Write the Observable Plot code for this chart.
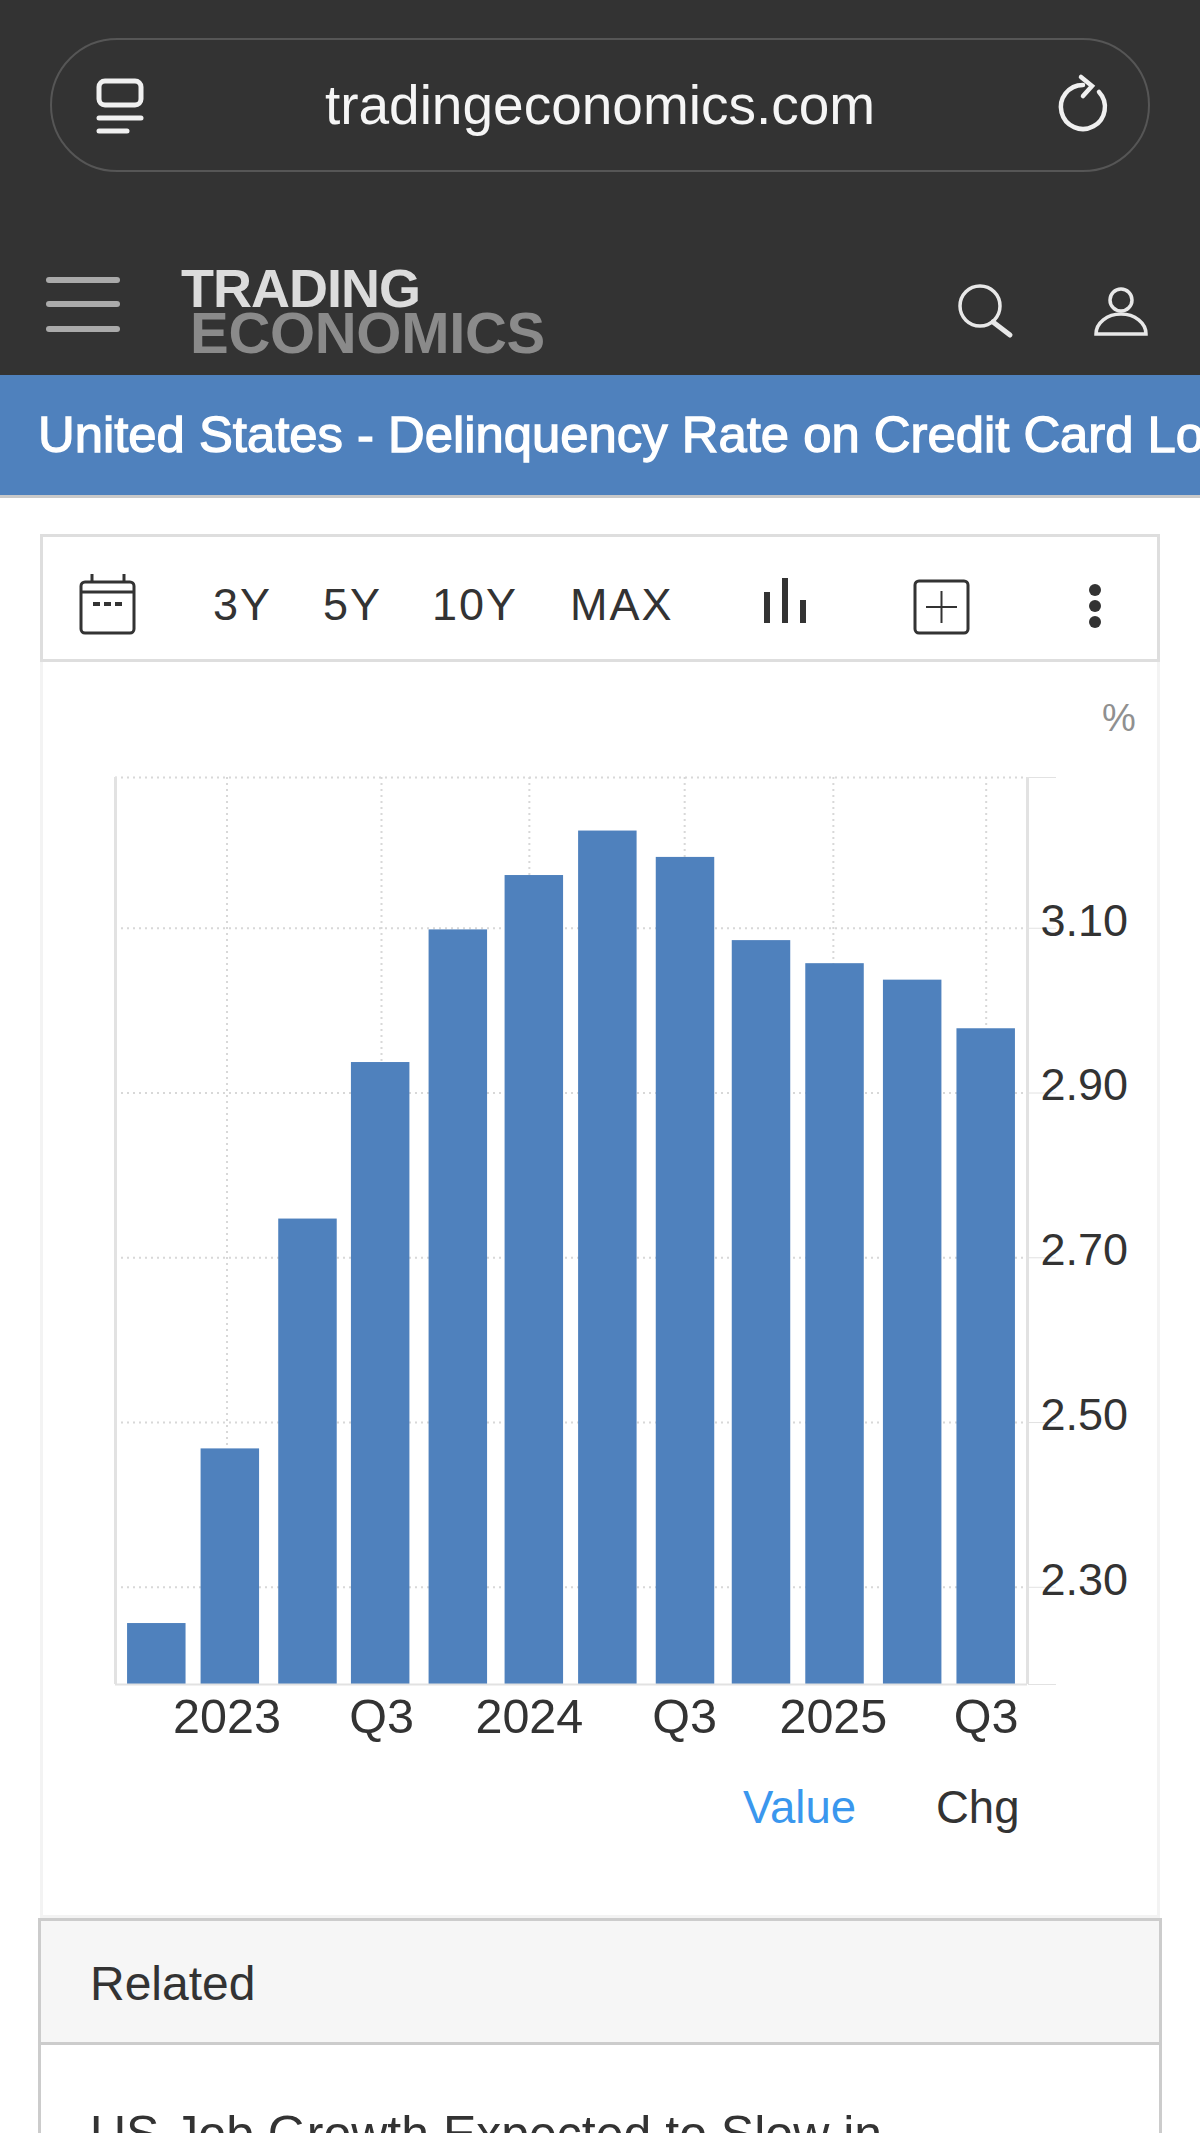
<!DOCTYPE html>
<html><head><meta charset="utf-8">
<script src="https://cdn.jsdelivr.net/npm/d3@7"></script>
<script src="https://cdn.jsdelivr.net/npm/@observablehq/plot@0.6"></script>
<style>
html,body{margin:0;padding:0;background:#fff;width:1200px;height:2133px;overflow:hidden;font-family:"Liberation Sans",Arial,sans-serif;}
.a{position:absolute;white-space:nowrap;line-height:1;}
svg.i{position:absolute;left:0;top:0;}
#chart{position:absolute;left:0;top:690px;width:1200px;}
</style></head><body>
<div class="a" style="left:0;top:0;width:1200px;height:375px;background:#333"></div>
<div class="a" style="left:50px;top:38px;width:1100px;height:134px;box-sizing:border-box;border:2px solid #565656;border-radius:67px"></div>
<div class="a" style="left:0;width:1200px;text-align:center;top:78px;font-size:55px;color:#f5f5f5">tradingeconomics.com</div>
<div class="a" style="left:181px;top:268px;font-size:54px;line-height:.75;font-weight:bold;color:#dcdcdc;letter-spacing:-1px">TRADING</div>
<div class="a" style="left:190px;top:311px;font-size:58px;line-height:.75;font-weight:bold;color:#8a8a8a;letter-spacing:-.3px">ECONOMICS</div>
<div class="a" style="left:0;top:375px;width:1200px;height:120px;background:#4f81bd;border-bottom:3px solid #c9c9c9;overflow:hidden">
  <div class="a" style="left:38px;top:35px;font-size:50.8px;color:#fff;-webkit-text-stroke:1.3px #fff">United States - Delinquency Rate on Credit Card Loans</div>
</div>
<div class="a" style="left:40px;top:661px;width:1120px;height:1257px;box-sizing:border-box;border:3px solid #f3f3f3;border-top:0"></div>
<div class="a" style="left:40px;top:534px;width:1120px;height:128px;box-sizing:border-box;border:3px solid #dedede;background:#fff"></div>
<div class="a" style="left:213px;top:582px;font-size:45px;color:#333;letter-spacing:2px">3Y</div>
<div class="a" style="left:323px;top:582px;font-size:45px;color:#333;letter-spacing:2px">5Y</div>
<div class="a" style="left:432px;top:582px;font-size:45px;color:#333;letter-spacing:2px">10Y</div>
<div class="a" style="left:570px;top:582px;font-size:45px;color:#333;letter-spacing:2px">MAX</div>
<svg class="i" width="1200" height="700" fill="none">
  <g stroke="#f0f0f0" stroke-width="5" stroke-linecap="round">
    <rect x="99" y="81" width="42" height="24" rx="6"/>
    <line x1="99" y1="118" x2="141" y2="118"/><line x1="99" y1="131" x2="127" y2="131"/>
    <path d="M1099 92 A22 22 0 1 1 1083 85 M1081 77 L1092 86 L1083 96" stroke-width="4.5"/>
  </g>
  <g stroke="#e8e8e8" stroke-width="4" stroke-linecap="round">
    <circle cx="980" cy="306" r="20" stroke-width="3.5"/><line x1="993" y1="322" x2="1010" y2="335" stroke-width="5"/>
    <circle cx="1121" cy="300" r="11" stroke-width="3.5"/><path d="M1096 334 a25 20 0 0 1 50 0 z" stroke-width="3.5"/>
  </g>
  <g stroke="#aaa" stroke-width="6" stroke-linecap="round">
    <line x1="49" y1="280" x2="117" y2="280"/><line x1="49" y1="304" x2="117" y2="304"/><line x1="49" y1="329" x2="117" y2="329"/>
  </g>
  <g stroke="#333" stroke-width="3">
    <rect x="81" y="582" width="53" height="51" rx="4"/><line x1="81" y1="592" x2="134" y2="592"/>
    <line x1="92" y1="574" x2="92" y2="582"/><line x1="124" y1="574" x2="124" y2="582"/>
    <line x1="93" y1="604" x2="100" y2="604" stroke-width="4"/><line x1="104" y1="604" x2="111" y2="604" stroke-width="4"/><line x1="115" y1="604" x2="122" y2="604" stroke-width="4"/>
    <line x1="767" y1="623" x2="767" y2="592" stroke-width="6"/><line x1="785" y1="623" x2="785" y2="578" stroke-width="6"/><line x1="803" y1="623" x2="803" y2="600" stroke-width="6"/>
    <rect x="915" y="581" width="53" height="52" rx="4"/><line x1="926" y1="607" x2="957" y2="607" stroke-width="2"/><line x1="941.5" y1="591" x2="941.5" y2="623" stroke-width="2"/>
  </g>
  <g fill="#333"><circle cx="1095" cy="590" r="6"/><circle cx="1095" cy="606" r="6"/><circle cx="1095" cy="622" r="6"/></g>
</svg>
<div id="chart"></div>
<div class="a" style="left:1102px;top:699px;font-size:38px;color:#909090">%</div>
<div class="a" style="left:743px;top:1785px;font-size:45.5px;color:#3a97ee">Value</div>
<div class="a" style="left:936px;top:1785px;font-size:45.5px;color:#333">Chg</div>
<div class="a" style="left:38px;top:1918px;width:1124px;height:127px;box-sizing:border-box;border:3px solid #ccc;background:#f6f6f6"></div>
<div class="a" style="left:38px;top:2044px;width:1124px;height:100px;box-sizing:border-box;border:3px solid #ccc;border-top:0"></div>
<div class="a" style="left:90px;top:1960px;font-size:48px;color:#333">Related</div>
<div class="a" style="left:90px;top:2109px;font-size:50px;color:#333">US Job Growth Expected to Slow in</div>
<script>
const quarters = ["2022-10-01","2022-12-29","2023-04-02","2023-06-29","2023-10-01","2024-01-01","2024-03-30","2024-07-02","2024-10-02","2024-12-30","2025-04-03","2025-07-01"];
const rates = [2.256,2.468,2.747,2.937,3.098,3.164,3.218,3.186,3.085,3.057,3.037,2.978];
const tickDates = ["2022-12-25","2023-06-30","2023-12-26","2024-07-01","2024-12-28","2025-07-01"];
const tickLabels = ["2023","Q3","2024","Q3","2025","Q3"];
const yTicks = [2.30,2.50,2.70,2.90,3.10];
const yDomain = [2.182,3.283];
const xDomain = ["2022-08-12","2025-08-20"];

const DAY = 864e5, halfBar = 35.4 * DAY;
const rows = quarters.map((q,i)=>({t:new Date(q),v:rates[i]}));
const xt = tickDates.map(d=>new Date(d));
const labelOf = new Map(xt.map((d,i)=>[+d,tickLabels[i]]));
const dotted = {stroke:"#d8d8d8",strokeWidth:2,strokeDasharray:"2,4"};
const chart = Plot.plot({
  width:1200,height:1180,marginLeft:115,marginRight:173,marginTop:87,marginBottom:186,
  style:{fontFamily:"'Liberation Sans',Arial,sans-serif",background:"transparent"},
  x:{type:"utc",domain:xDomain.map(d=>new Date(d))},
  y:{domain:yDomain},
  marks:[
    Plot.ruleY([yDomain[1],...yTicks],dotted),
    Plot.ruleX(xt,dotted),
    Plot.ruleX(xDomain.map(d=>new Date(d)),{stroke:"#e2e2e2",strokeWidth:3}),
    Plot.rectY(rows,{x1:d=>new Date(+d.t-halfBar),x2:d=>new Date(+d.t+halfBar),y1:yDomain[0],y2:"v",fill:"#4f81bd"}),
    Plot.ruleY([yDomain[0]],{stroke:"#e2e2e2",strokeWidth:2}),
    Plot.axisY({anchor:"right",ticks:[...yDomain,...yTicks],tickSize:28,tickFormat:()=>"",stroke:"#e2e2e2",label:null}),
    Plot.axisY({anchor:"right",ticks:yTicks,tickSize:0,tickPadding:13,tickFormat:d3.format(".2f"),fontSize:45,fill:"#333",dy:-7,label:null}),
    Plot.axisX({ticks:xt,tickSize:0,tickPadding:14,tickFormat:d=>labelOf.get(+d),fontSize:48.5,fill:"#333",label:null})
  ]
});
document.getElementById("chart").appendChild(chart);
</script>
</body></html>
